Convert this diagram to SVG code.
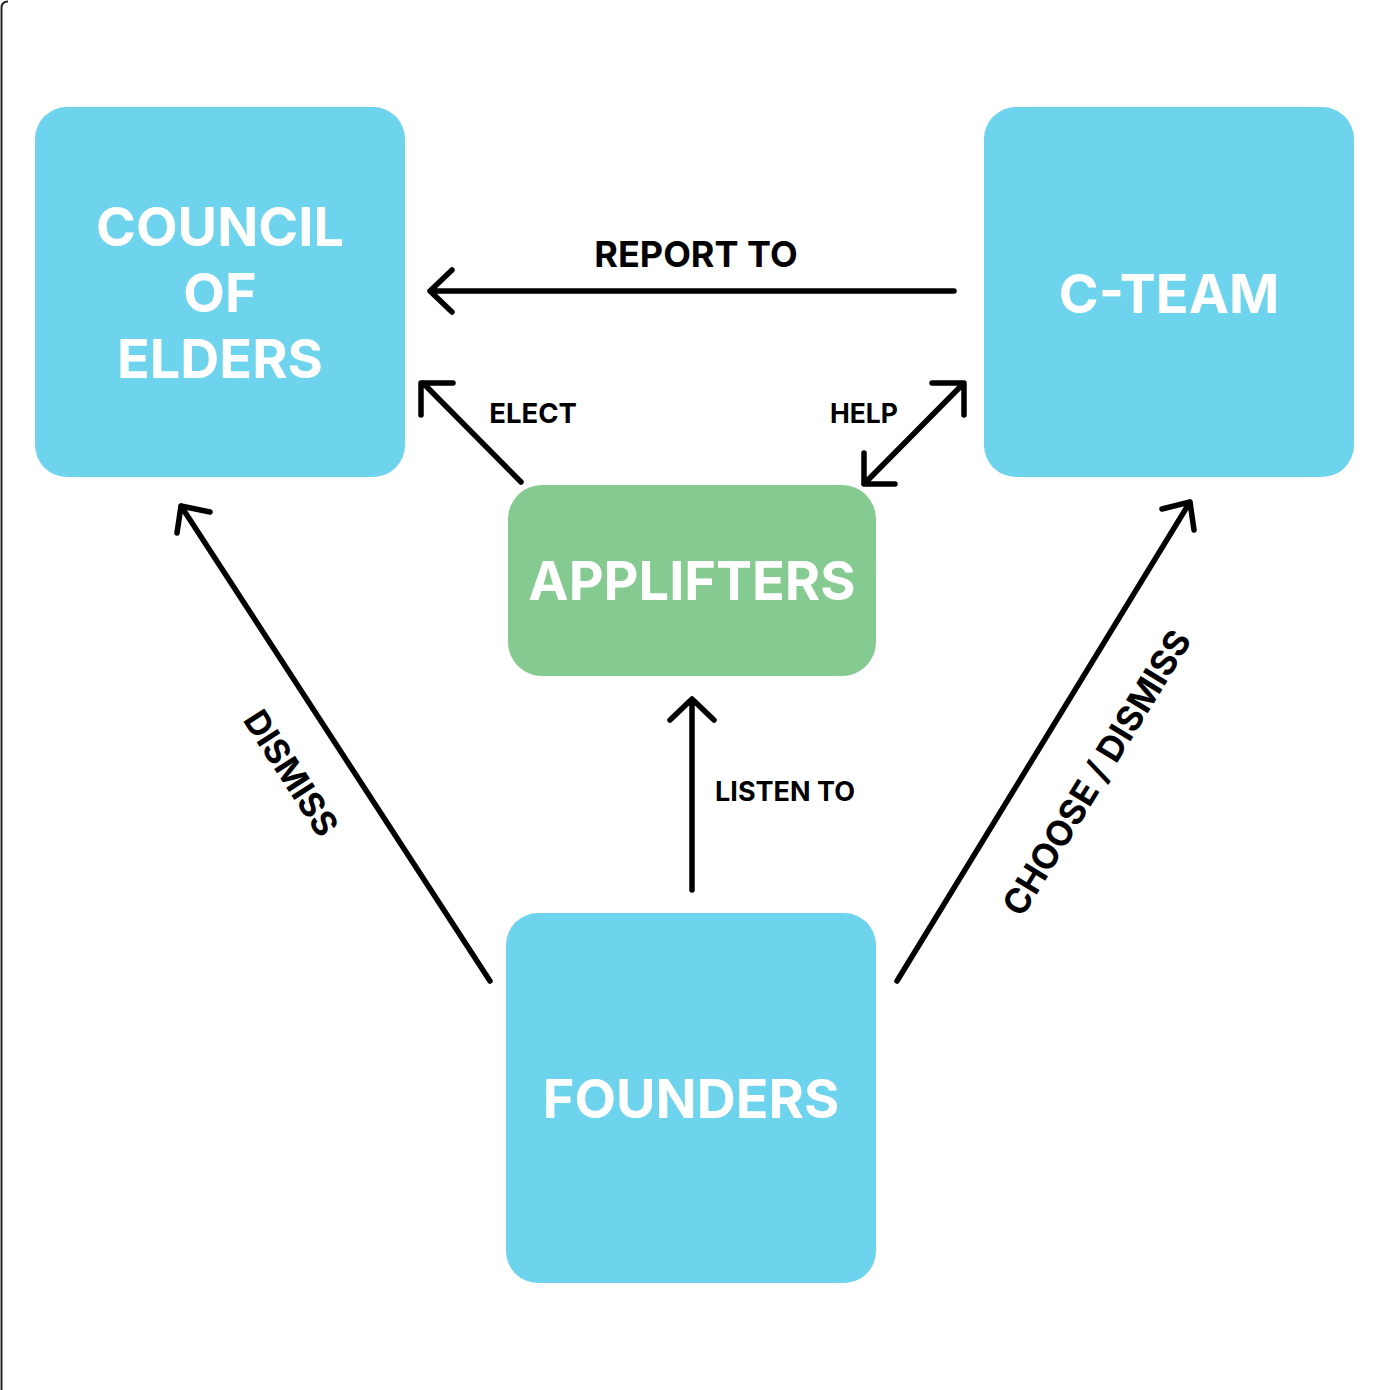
<svg xmlns="http://www.w3.org/2000/svg" width="1390" height="1390" viewBox="0 0 1390 1390">
<style>
.node{fill:#6ED3ED}
.green{fill:#85CA90}
.nt{font-family:Inter,"Liberation Sans",sans-serif;font-weight:700;font-size:54px;fill:#ffffff;text-anchor:middle}
.lbl{font-family:Inter,"Liberation Sans",sans-serif;font-weight:700;fill:#000000;text-anchor:middle}
.ln{stroke:#000;stroke-width:5.5;fill:none;stroke-linecap:round;stroke-linejoin:round}
</style>
<rect x="0" y="0" width="1390" height="1390" fill="#ffffff"/>
<path d="M1.5,1390 V8 Q1.5,1.5 8,1.5" fill="none" stroke="#222" stroke-width="2"/>
<g id="council">
<rect class="node" x="35" y="107" width="370" height="370" rx="32"/>
<text class="nt" x="220" y="246">COUNCIL</text>
<text class="nt" x="220" y="312">OF</text>
<text class="nt" x="220" y="378">ELDERS</text>
</g>
<g id="cteam">
<rect class="node" x="984" y="107" width="370" height="370" rx="32"/>
<text class="nt" x="1169" y="313">C-TEAM</text>
</g>
<g id="applifters">
<rect class="green" x="508" y="485" width="368" height="191" rx="34"/>
<text class="nt" x="692" y="600">APPLIFTERS</text>
</g>
<g id="founders">
<rect class="node" x="506" y="913" width="370" height="370" rx="32"/>
<text class="nt" x="691" y="1118">FOUNDERS</text>
</g>
<g id="connectors">
<path class="ln" d="M954,291 H430 M452,270 L430,291 L452,312"/>
<path class="ln" d="M521,482 L423,383 M421,415 L421,383 L453,383"/>
<path class="ln" d="M864,484 L963,384 M932,383 L964,383 L964,415 M864,453 L864,484 L895,484"/>
<path class="ln" d="M692,890 V700 M670,720 L692,699 L714,720"/>
<path class="ln" d="M490,981 L181,506 M177,533 L181,506 L210,512"/>
<path class="ln" d="M897,981 L1190,502 M1162,509 L1190,502 L1194,530"/>
</g>
<g id="labels">
<text class="lbl" x="696" y="267" font-size="36">REPORT TO</text>
<text class="lbl" x="533" y="423" font-size="27.5">ELECT</text>
<text class="lbl" x="864" y="423" font-size="26.5">HELP</text>
<text class="lbl" x="785" y="801" font-size="27">LISTEN TO</text>
<text class="lbl" font-size="34" transform="translate(291,773) rotate(57)" y="12">DISMISS</text>
<text class="lbl" font-size="35" transform="translate(1097,773) rotate(-58.5)" y="12">CHOOSE / DISMISS</text>
</g>
</svg>
